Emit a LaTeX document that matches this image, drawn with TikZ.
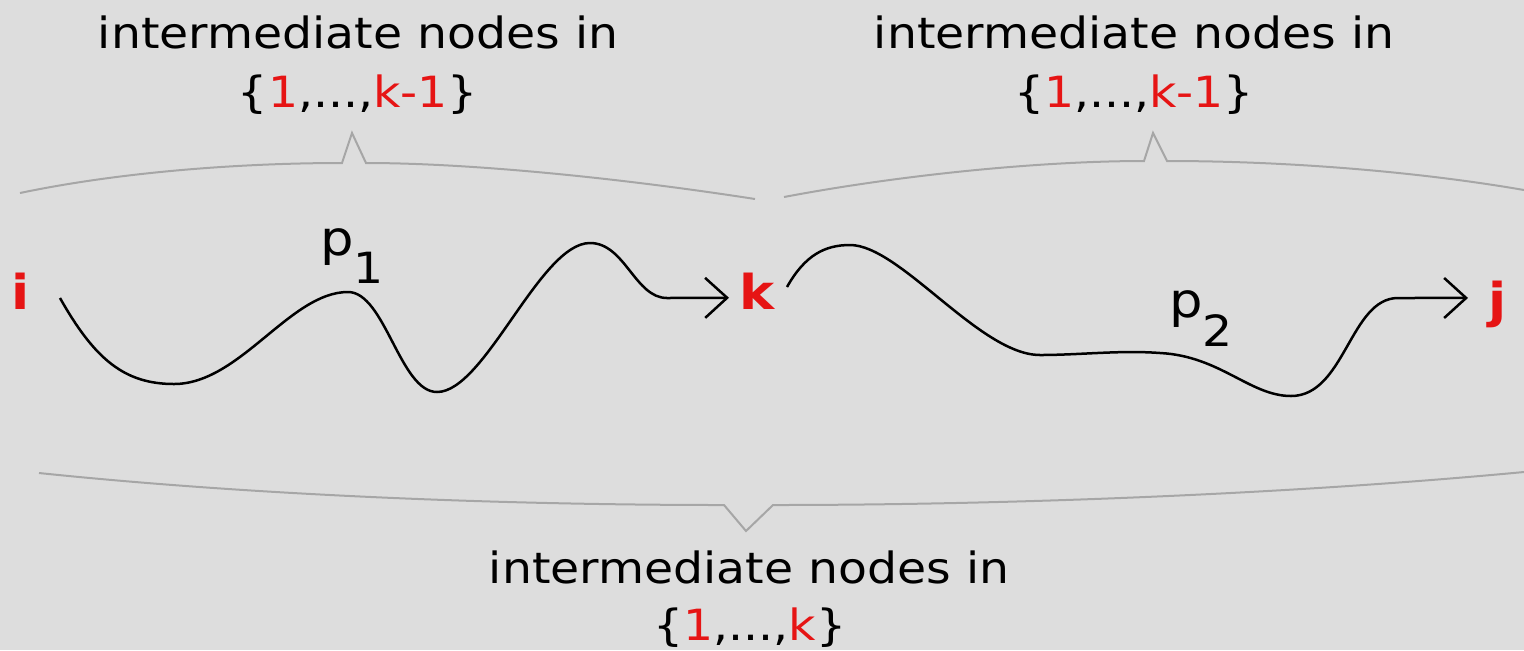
\documentclass[tikz,border=0pt]{standalone}
\usepackage{fontspec}
\setmainfont{DejaVu Sans}[FakeStretch=1.1]
\usetikzlibrary{arrows.meta}
\definecolor{bg}{RGB}{221,221,221}
\definecolor{myred}{RGB}{230,20,20}
\definecolor{bracegray}{RGB}{166,166,166}
\begin{document}
\begin{tikzpicture}[x=0.5pt,y=-0.5pt,
  lbl/.style={font=\fontsize{21.5}{26}\selectfont, inner sep=0pt, anchor=base},
  endpt/.style={font=\fontsize{24}{28}\selectfont\bfseries, text=myred, inner sep=0pt, anchor=base west},
  plabel/.style={font=\fontsize{24}{28}\selectfont, inner sep=0pt, anchor=base west},
  pathline/.style={draw=black, line width=1.25pt, -{Straight Barb[length=11pt,width=20pt]}},
  bracepath/.style={draw=bracegray, line width=1pt, line join=miter}]
\fill[bg] (0,0) rectangle (1524,650);
\useasboundingbox (0,0) rectangle (1524,650);

% braces
\draw[bracepath] (20,193) .. controls (120,172) and (240,163) .. (342,163) -- (352,133) -- (366,163) .. controls (470,163) and (620,178) .. (755,199);
\draw[bracepath] (784,197) .. controls (900,175) and (1040,161) .. (1144,161) -- (1153,133) -- (1167,161) .. controls (1290,161) and (1420,172) .. (1524,190);
\draw[bracepath] (39,473) .. controls (250,495) and (500,505) .. (724,505) -- (746,531) -- (773,505) .. controls (1000,505) and (1280,495) .. (1524,472);

% labels
\node[lbl] (tl1) at (358,48) {intermediate nodes in};
\node[lbl] (tl2) at (358,107) {\{\textcolor{myred}{1},...,\textcolor{myred}{k-1}\}};
\node[lbl] (tr1) at (1134,48) {intermediate nodes in};
\node[lbl] (tr2) at (1134,107) {\{\textcolor{myred}{1},...,\textcolor{myred}{k-1}\}};
\node[lbl] (b1) at (749,583) {intermediate nodes in};
\node[lbl] (b2) at (750,640) {\{\textcolor{myred}{1},...,\textcolor{myred}{k}\}};

% end points
\node[endpt] (i) at (11,309) {i};
\node[endpt] (k) at (739,309) {k};
\node[endpt] (j) at (1488,317) {j};
\coordinate (s1) at (60,298);
\coordinate (s2) at (787,287);

% paths
\draw[pathline] (s1) .. controls (95,360) and (125,384) .. (174,384)
  .. controls (240,384) and (290,292) .. (348,292)
  .. controls (385,292) and (400,392) .. (437,392)
  .. controls (485,392) and (540,243) .. (590,243)
  .. controls (625,243) and (635,298) .. (667,298)
  -- ([shift={(-10,7)}]k.west);
\draw[pathline] (s2) .. controls (805,255) and (825,245) .. (850,245)
  .. controls (900,245) and (980,355) .. (1040,355)
  .. controls (1080,355) and (1120,350) .. (1160,353)
  .. controls (1220,356) and (1250,396) .. (1291,396)
  .. controls (1345,396) and (1350,298) .. (1398,298)
  -- ([shift={(-20,-6)}]j.west);

% path labels
\node[plabel] (p1) at (320,255) {p\raisebox{-14pt}{\fontsize{21.5}{26}\selectfont 1}};
\node[plabel] (p2) at (1169,317) {p\raisebox{-14.5pt}{\fontsize{21.5}{26}\selectfont 2}};
\end{tikzpicture}
\end{document}
